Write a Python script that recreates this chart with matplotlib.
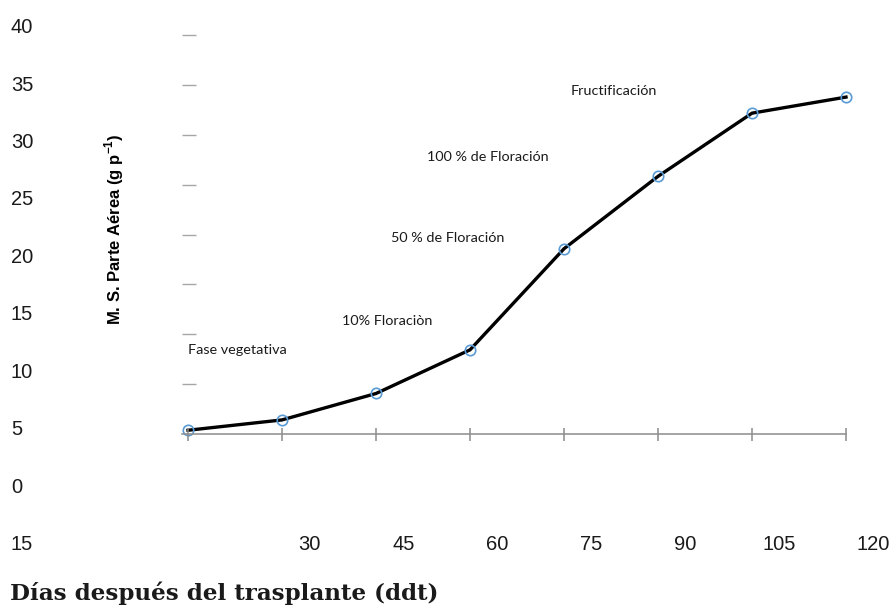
import numpy as np
import matplotlib
matplotlib.use('Agg')
import matplotlib.pyplot as plt

# data (days after transplant, dry matter g/plant)
dias = [15, 30, 45, 60, 75, 90, 105, 120]
materia_seca = [4.8, 5.7, 8.0, 11.8, 20.6, 26.9, 32.4, 33.8]

y_labels = ['0', '5', '10', '15', '20', '25', '30', '35', '40']
x_labels = ['15', '30', '45', '60', '75', '90', '105', '120']
dash_ticks = [5, 10, 15, 20, 25, 30, 35, 40]

fases = ['Fase vegetativa', '10% Floraciòn', '50 % de Floración',
         '100 % de Floración', 'Fructificación']

plt.rcParams['mathtext.fontset'] = 'custom'
plt.rcParams['mathtext.bf'] = 'Liberation Sans:bold'
plt.rcParams['mathtext.rm'] = 'Liberation Sans:bold'

fig = plt.figure(figsize=(8.93, 6.08), dpi=100)

# axes that holds the data (scale of the printed numbers)
ax = fig.add_axes([0, 0, 1, 1])
ax.set_xlim(-15, 127.5)
ax.set_ylim(-10.67, 42.25)
ax.axis('off')

# axes for the drawn axis line and tick marks of the chart itself
ax2 = fig.add_axes([0, 0, 1, 1], sharex=ax)
ax2.set_ylim(-17.42, 43.51)
ax2.axis('off')
ax2.patch.set_alpha(0)

gray = '#8c8c8c'
ax2.plot([14.0, 120], [0, 0], color=gray, lw=1.1, zorder=1)
ax2.vlines(dias, -0.65, 0.62, color=gray, lw=1.1, zorder=1)
ax2.hlines(dash_ticks, 14.0, 16.3, color='#a6a6a6', lw=1.0)

ax.plot(dias, materia_seca, color='black', lw=2.4, zorder=3,
        marker='o', markersize=7.5, markerfacecolor='none',
        markeredgecolor='#5b9bd5', markeredgewidth=1.2)

# printed numbers
lab_font = dict(family='Liberation Sans', fontsize=14.5, color='#1a1a1a')
for lab in y_labels:
    ax.text(-13.25, float(lab) - 0.15, lab, ha='left', va='center', **lab_font)

y_xlab = -5.1
ax.text(-13.25, y_xlab, x_labels[0], ha='left', va='center', **lab_font)
for d, lab in zip(dias[1:], x_labels[1:]):
    ax.text(d + 4.4, y_xlab, lab, ha='center', va='center', **lab_font)

ax.text(3.2, 22.3, 'M. S. Parte Aérea (g p$^{-1}$)', family='Liberation Sans',
        fontweight='bold', rotation=90, ha='center', va='center', fontsize=12)

# phase notes
fase_pos = [(15.0, 11.8), (39.5, 14.3), (47.4, 21.5), (53.1, 28.6), (76.0, 34.3)]
for txt, (xx, yy) in zip(fases, fase_pos):
    ax.text(xx, yy, txt, ha='left', va='center', family='Lato', fontsize=10.4,
            color='#1a1a1a')

fig.text(0.011, 0.025, 'Días después del trasplante (ddt)', ha='left',
         va='center', family='DejaVu Serif', fontweight='bold', fontsize=16.6,
         color='#1a1a1a')

fig.savefig('out.png', dpi=100)
